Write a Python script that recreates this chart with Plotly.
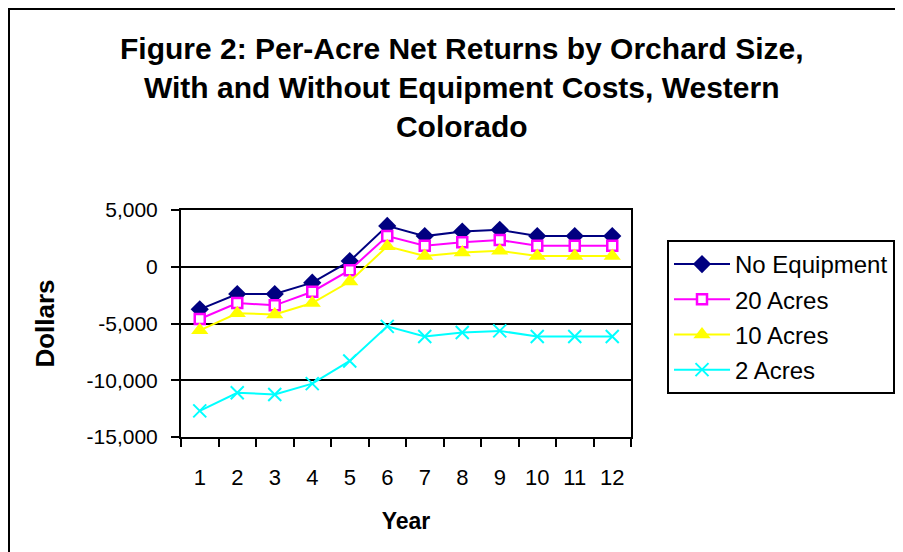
import plotly.graph_objects as go

years = [str(i) for i in range(1, 13)]
no_equipment = [-3750, -2400, -2400, -1400, 500, 3600, 2700, 3100, 3250, 2700, 2700, 2700]
acres_20 = [-4600, -3200, -3400, -2200, -300, 2700, 1850, 2150, 2350, 1850, 1850, 1850]
acres_10 = [-5600, -4100, -4200, -3200, -1300, 1800, 950, 1250, 1400, 950, 950, 950]
acres_2 = [-12700, -11100, -11250, -10300, -8300, -5250, -6150, -5800, -5650, -6150, -6150, -6150]

y_tickvals = [5000, 0, -5000, -10000, -15000]
y_ticktext = ["5,000", "0", "-5,000", "-10,000", "-15,000"]

FONT = "Liberation Sans, Arial, sans-serif"

fig = go.Figure()
fig.add_trace(go.Scatter(x=years, y=no_equipment, name="No Equipment", mode="lines+markers",
                         legendgroup="a",
                         line=dict(color="#000080", width=2),
                         marker=dict(symbol="diamond", size=14, color="#000080")))
fig.add_trace(go.Scatter(x=years, y=acres_20, name="20 Acres", mode="lines+markers",
                         legendgroup="b",
                         line=dict(color="#FF00FF", width=2),
                         marker=dict(symbol="square", size=10, color="white",
                                     line=dict(color="#FF00FF", width=2.5))))
fig.add_trace(go.Scatter(x=years, y=acres_10, name="10 Acres", mode="lines+markers",
                         legendgroup="c",
                         line=dict(color="#FFFF00", width=2),
                         marker=dict(symbol="triangle-up", size=15, color="#FFFF00")))
fig.add_trace(go.Scatter(x=years, y=acres_2, name="2 Acres", mode="lines+markers",
                         legendgroup="d",
                         line=dict(color="#00FFFF", width=2),
                         marker=dict(symbol="x-thin-open", size=13, color="#00FFFF",
                                     line=dict(color="#00FFFF", width=2))))

fig.update_layout(
    width=895, height=544,
    margin=dict(l=173, r=272, t=202, b=115, autoexpand=False),
    paper_bgcolor="white", plot_bgcolor="white",
    font=dict(family=FONT, size=21, color="black"),
    title=dict(text="<b>Figure 2: Per-Acre Net Returns by Orchard Size,<br>With and Without Equipment Costs, Western<br>Colorado</b>",
               x=0.507, xanchor="center", y=0.9055, yanchor="top",
               font=dict(family=FONT, size=30, color="black")),
    legend=dict(x=1.08, y=0.868, xanchor="left", yanchor="top",
                bordercolor="black", borderwidth=2, bgcolor="white",
                font=dict(family=FONT, size=24), tracegroupgap=1,
                itemwidth=56),
    showlegend=True,
    shapes=[dict(type="rect", xref="paper", yref="paper",
                 x0=-172 / 450, x1=1.8, y0=-0.8, y1=(437 - 9) / 227,
                 line=dict(color="black", width=2), fillcolor="rgba(0,0,0,0)", layer="below")],
)

fig.update_xaxes(type="category", tickson="boundaries", ticks="outside", ticklen=8,
                 tickwidth=2, tickcolor="black", showline=True, linecolor="black", linewidth=2,
                 mirror=True, showgrid=False, range=[-0.5, 11.5], ticklabelstandoff=20,
                 automargin=False,
                 title=dict(text="<b>Year</b>", font=dict(family=FONT, size=23), standoff=23),
                 tickfont=dict(size=22))
fig.update_yaxes(range=[-15000, 5000], tickvals=y_tickvals, ticktext=y_ticktext,
                 ticks="outside", ticklen=8, tickwidth=2, tickcolor="black",
                 showline=True, linecolor="black", linewidth=2, mirror=True,
                 showgrid=True, gridcolor="black", gridwidth=1.5, zeroline=False,
                 ticklabelstandoff=9, automargin=False,
                 title=dict(text="<b>Dollars</b>", font=dict(family=FONT, size=26), standoff=24),
                 tickfont=dict(size=21))

fig.write_html("out.html")
